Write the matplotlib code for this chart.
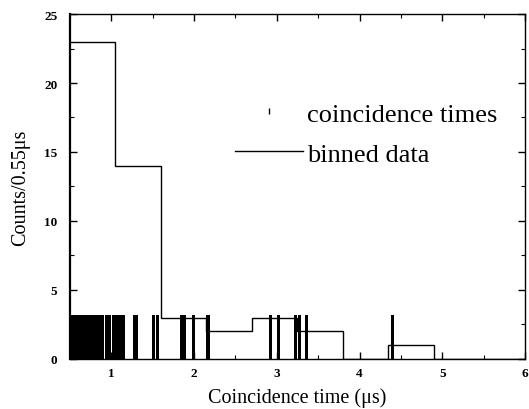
import numpy as np
import matplotlib
matplotlib.use('Agg')
import matplotlib.pyplot as plt
from matplotlib.lines import Line2D
from matplotlib.ticker import MultipleLocator

plt.rcParams['font.family'] = ['Liberation Serif', 'DejaVu Serif']

# individual coincidence times (us)
coincidence_times = [
    0.517, 0.537, 0.561, 0.581, 0.609, 0.630, 0.657, 0.674, 0.690, 0.714,
    0.739, 0.762, 0.790, 0.823, 0.838, 0.867, 0.883, 0.931, 0.952, 0.971,
    1.015, 1.030, 1.045,
    1.060, 1.070, 1.080, 1.090, 1.100, 1.110, 1.120, 1.130, 1.140,
    1.270, 1.290, 1.300, 1.500, 1.555,
    1.844, 1.876, 1.985,
    2.155, 2.165,
    2.913, 3.010, 3.220,
    3.270, 3.350,
    4.390,
]

# binned data, 0.55 us bins
bin_edges = [0.5, 1.05, 1.6, 2.15, 2.7, 3.25, 3.8, 4.35, 4.9, 5.45, 6.0]
bin_counts = [23, 14, 3, 2, 3, 2, 0, 1, 0, 0]

x_ticks = [1, 2, 3, 4, 5, 6]
y_ticks = [0, 5, 10, 15, 20, 25]

fig = plt.figure(figsize=(5.29, 4.10), dpi=100)
ax = fig.add_axes([0.1323, 0.122, 0.8601, 0.8414])

# event marks (crisp lines like the printed original)
ax.vlines(coincidence_times, 0, 3.2, color='black', linewidth=1.0, antialiased=False)
# histogram outline
ax.stairs(bin_counts, bin_edges, color='black', linewidth=1.0, baseline=None)

ax.set_xlim(0.5, 6.0)
ax.set_ylim(0, 25)
ax.set_xticks(x_ticks)
ax.set_yticks(y_ticks)
ax.xaxis.set_minor_locator(MultipleLocator(0.5))
ax.yaxis.set_minor_locator(MultipleLocator(2.5))

ax.tick_params(which='both', direction='in', top=True, right=True, color='black')
ax.tick_params(which='major', length=5, width=1.0)
ax.tick_params(which='minor', length=3, width=0.8)
ax.tick_params(axis='x', which='major', pad=6)
ax.tick_params(axis='y', which='major', pad=9)
for lab in ax.get_xticklabels() + ax.get_yticklabels():
    lab.set_fontsize(9.5)
    lab.set_fontweight('bold')

for side in ['top', 'right', 'bottom']:
    ax.spines[side].set_linewidth(1.0)
ax.spines['left'].set_linewidth(1.6)

ax.set_xlabel('Coincidence time (\u03bcs)', fontsize=14.5, labelpad=6)
ax.set_ylabel('Counts/0.55\u03bcs', fontsize=14.5, labelpad=10)

handles = [
    Line2D([], [], marker='|', linestyle='none', color='black', markersize=5, markeredgewidth=1.0),
    Line2D([], [], color='black', linewidth=1.0),
]
ax.legend(handles, ['coincidence times', 'binned data'],
          loc='center left', bbox_to_anchor=(0.3636, 0.6525),
          frameon=False, fontsize=19, handlelength=2.55, handletextpad=0.15,
          labelspacing=0.62, borderpad=0, borderaxespad=0)

fig.savefig('out.png', dpi=100)
